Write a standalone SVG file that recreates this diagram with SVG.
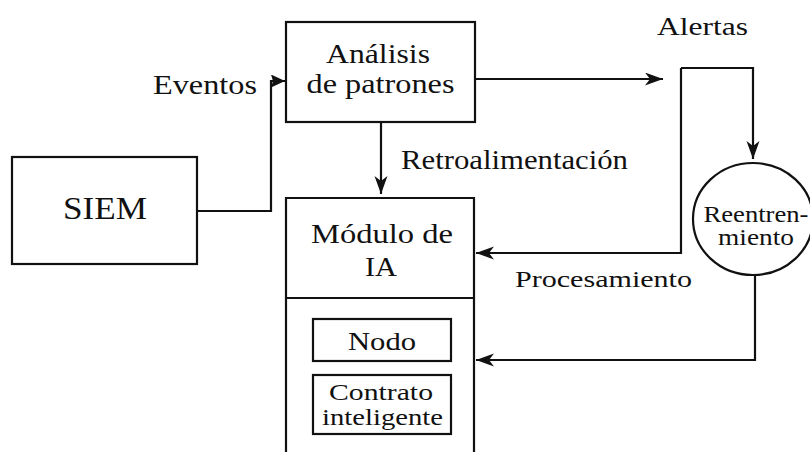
<svg xmlns="http://www.w3.org/2000/svg" width="810" height="452" viewBox="0 0 810 452">
<style>
.box{fill:#fff;stroke:#111;stroke-width:2.2}
.ln{fill:none;stroke:#111;stroke-width:2.2}
text{font-family:"Liberation Serif","Times New Roman",serif;fill:#111;text-anchor:middle}
</style>
<defs>
<marker id="ah" markerUnits="userSpaceOnUse" markerWidth="20" markerHeight="14" refX="18" refY="6.5" orient="auto">
<path d="M0,0 L18,6.5 L0,13 L5,6.5 z" fill="#111"/>
</marker>
<marker id="ahs" markerUnits="userSpaceOnUse" markerWidth="16" markerHeight="14" refX="14" refY="6.5" orient="auto">
<path d="M0,0 L14,6.5 L0,13 L2,6.5 z" fill="#111"/>
</marker>
</defs>
<rect width="810" height="452" fill="#fff"/>
<g id="connectors">
<path class="ln" d="M197,211 H271 V81 H285" marker-end="url(#ahs)"/>
<path class="ln" d="M475,79 H663" marker-end="url(#ah)"/>
<path class="ln" d="M381,122 V194" marker-end="url(#ah)"/>
<path class="ln" d="M681,68 H753 V159" marker-end="url(#ah)"/>
<path class="ln" d="M681,68 V253 H476" marker-end="url(#ah)"/>
<path class="ln" d="M755,275 V360 H476" marker-end="url(#ah)"/>
</g>
<g id="siem">
<rect class="box" x="12" y="157" width="185" height="107"/>
<text x="105" y="219" font-size="32" textLength="84" lengthAdjust="spacingAndGlyphs">SIEM</text>
</g>
<g id="analisis">
<rect class="box" x="286" y="22" width="189" height="100"/>
<text x="378" y="63" font-size="28" textLength="104" lengthAdjust="spacingAndGlyphs">Análisis</text>
<text x="380.5" y="93" font-size="28" textLength="148" lengthAdjust="spacingAndGlyphs">de patrones</text>
</g>
<g id="modulo">
<path class="box" d="M286,460 V198 H474 V460"/>
<line class="ln" x1="286" y1="298" x2="474" y2="298"/>
<text x="382" y="243" font-size="28" textLength="142" lengthAdjust="spacingAndGlyphs">Módulo de</text>
<text x="381" y="276" font-size="28" textLength="32" lengthAdjust="spacingAndGlyphs">IA</text>
</g>
<g id="nodo">
<rect class="box" x="313" y="319" width="138" height="42"/>
<text x="382" y="350" font-size="25" textLength="68" lengthAdjust="spacingAndGlyphs">Nodo</text>
</g>
<g id="contrato">
<rect class="box" x="313" y="375" width="138" height="59"/>
<text x="381" y="400" font-size="23" textLength="104" lengthAdjust="spacingAndGlyphs">Contrato</text>
<text x="382.5" y="425" font-size="23" textLength="121" lengthAdjust="spacingAndGlyphs">inteligente</text>
</g>
<g id="reentrenamiento">
<ellipse class="box" cx="753" cy="219" rx="60" ry="56"/>
<text x="756" y="222" font-size="23" textLength="105" lengthAdjust="spacingAndGlyphs">Reentren-</text>
<text x="756" y="245" font-size="23" textLength="76" lengthAdjust="spacingAndGlyphs">miento</text>
</g>
<g id="labels">
<text x="205" y="94" font-size="27" textLength="104" lengthAdjust="spacingAndGlyphs">Eventos</text>
<text x="514.5" y="169" font-size="27" textLength="227" lengthAdjust="spacingAndGlyphs">Retroalimentación</text>
<text x="702.5" y="35" font-size="25" textLength="91" lengthAdjust="spacingAndGlyphs">Alertas</text>
<text x="603.5" y="287" font-size="24" textLength="177" lengthAdjust="spacingAndGlyphs">Procesamiento</text>
</g>
</svg>
